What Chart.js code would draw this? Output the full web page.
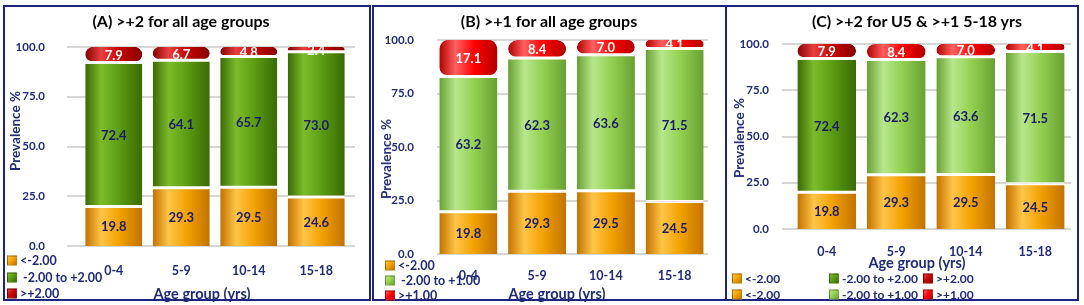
<!DOCTYPE html>
<html>
<head>
<meta charset="utf-8">
<script src="https://cdn.jsdelivr.net/npm/chart.js@4.4.1/dist/chart.umd.min.js"></script>
<style>
    body { margin: 0; background: #fff; width: 1084px; height: 305px; overflow: hidden; position: relative; font-family: Lato, 'Open Sans', sans-serif; }
    .panel { position: absolute; top: 5px; height: 292px; border: 2px solid #1c2380; }
    canvas { position: absolute; top: 0; }
    .txt { position: absolute; font-weight: bold; white-space: nowrap; color: #1f2a78; transform: translate(-50%, -50%); }
    .ttl { color: #000; font-size: 16px; }
    .axt { font-size: 14.5px; }
    .yt { font-size: 13.5px; transform: translate(-50%, -50%) rotate(-90deg); }
    .leg { position: absolute; font-weight: bold; font-size: 12.5px; color: #1f2a78; white-space: nowrap; transform: translateY(-50%); display: flex; align-items: center; }
    .leg.sm { font-size: 12px; }
    .leg i { display: inline-block; width: 8px; height: 8px; margin-right: 3px; border: 1px solid rgba(0,0,0,0.25); }
</style>
</head>
<body>
<div class="panel" style="left:3px;width:364px"></div>
<div class="panel" style="left:372px;width:351px"></div>
<div class="panel" style="left:725px;width:350px"></div>

<div style="position:absolute;left:0;top:0;width:370px;height:305px"><canvas id="cA"></canvas></div>
<div style="position:absolute;left:372px;top:0;width:355px;height:305px"><canvas id="cB"></canvas></div>
<div style="position:absolute;left:725px;top:0;width:354px;height:305px"><canvas id="cC"></canvas></div>

<div class="txt ttl" style="left:181px;top:20px">(A) &gt;+2 for all age groups</div>
<div class="txt ttl" style="left:549px;top:20px">(B) &gt;+1 for all age groups</div>
<div class="txt ttl" style="left:917px;top:20px">(C) &gt;+2 for U5 &amp; &gt;+1 5-18 yrs</div>

<div class="txt yt" style="left:15px;top:131px">Prevalence %</div>
<div class="txt yt" style="left:386px;top:159px">Prevalence %</div>
<div class="txt yt" style="left:739px;top:138px">Prevalence %</div>

<div class="txt axt" style="left:202px;top:293px">Age group (yrs)</div>
<div class="txt axt" style="left:557px;top:293px">Age group (yrs)</div>
<div class="txt axt" style="left:917px;top:262px">Age group (yrs)</div>

<div id="legends"></div>

<script>
// ===== data =====
const ageGroups = ['0-4', '5-9', '10-14', '15-18'];
const yTicks = [0, 25, 50, 75, 100];

// (A) >+2 for all age groups
const aLow = [19.8, 29.3, 29.5, 24.6];
const aMid = [72.4, 64.1, 65.7, 73.0];
const aHigh = [7.9, 6.7, 4.8, 2.4];

// (B) >+1 for all age groups
const bLow = [19.8, 29.3, 29.5, 24.5];
const bMid = [63.2, 62.3, 63.6, 71.5];
const bHigh = [17.1, 8.4, 7.0, 4.1];

// (C) >+2 for U5 & >+1 5-18 yrs
const cLow = [19.8, 29.3, 29.5, 24.5];
const cMid = [72.4, 62.3, 63.6, 71.5];
const cHigh = [7.9, 8.4, 7.0, 4.1];

const legendA = ['<-2.00', ' -2.00 to +2.00', '>+2.00'];
const legendB = ['<-2.00', ' -2.00 to +1.00', '>+1.00'];

// ===== styles =====
// [edge, mid, highlight]
const ORANGE = ['#c27200', '#f2a100', '#ffc548'];
const DKGREEN = ['#3a6a04', '#5b9c12', '#7cbc2c'];
const LTGREEN = ['#68a032', '#92d050', '#b8e78c'];
const DKRED = ['#860000', '#c80000', '#e84040'];
const RED = ['#b20000', '#ff0000', '#ff6060'];
const NAVY = '#1f2a78';
const BAR_PCT = 0.845;
const H = 305;

function cylinder(palettes) {
    return c => {
        const pal = palettes[c.dataIndex] || palettes[0];
        const xs = c.chart.scales.x;
        if (c.type !== 'data' || !xs || !xs.width) return pal[1];
        const cx = xs.getPixelForValue(c.dataIndex);
        const w = xs.width / ageGroups.length * BAR_PCT;
        const g = c.chart.ctx.createLinearGradient(cx - w / 2, 0, cx + w / 2, 0);
        g.addColorStop(0, pal[0]);
        g.addColorStop(0.28, pal[2]);
        g.addColorStop(0.6, pal[1]);
        g.addColorStop(1, pal[0]);
        return g;
    };
}

const gridLines = {
    id: 'gridLines',
    beforeDatasetsDraw(chart, args, opts) {
        const { ctx, scales: { y } } = chart;
        ctx.save();
        ctx.strokeStyle = '#d6d6d6';
        ctx.lineWidth = 2;
        y.ticks.forEach(t => {
            const py = Math.round(y.getPixelForValue(t.value));
            ctx.beginPath(); ctx.moveTo(opts.x0, py); ctx.lineTo(opts.x1, py); ctx.stroke();
        });
        ctx.restore();
    }
};

const segLabels = {
    id: 'segLabels',
    afterDatasetsDraw(chart) {
        const ctx = chart.ctx;
        ctx.save();
        ctx.font = 'bold 13px Lato';
        ctx.textAlign = 'center';
        ctx.textBaseline = 'middle';
        chart.data.datasets.forEach((ds, i) => {
            chart.getDatasetMeta(i).data.forEach((el, j) => {
                ctx.fillStyle = ds.labelColor;
                ctx.fillText(ds.data[j].toFixed(1), el.x, (el.y + el.base) / 2 + 1);
            });
        });
        ctx.restore();
    }
};

// area = plot box inside the canvas: left, right, top, bottom (px)
function renderPanel(id, low, mid, high, pals, geo) {
    const a = geo.area;
    const common = { borderColor: '#fff', borderSkipped: false, borderRadius: 9, barPercentage: BAR_PCT, categoryPercentage: 1 };
    new Chart(document.getElementById(id), {
        type: 'bar',
        data: { labels: ageGroups, datasets: [
            { ...common, label: 'low', data: low, backgroundColor: cylinder(pals.low), borderWidth: { top: 1.5, bottom: 0, left: 0, right: 0 }, labelColor: '#1b1b6b' },
            { ...common, label: 'mid', data: mid, backgroundColor: cylinder(pals.mid), borderWidth: { top: 1.5, bottom: 1.5, left: 0, right: 0 }, labelColor: '#1b1b6b' },
            { ...common, label: 'high', data: high, backgroundColor: cylinder(pals.high), borderWidth: { top: 0, bottom: 1.5, left: 0, right: 0 }, labelColor: '#fff' }
        ]},
        options: {
            responsive: true, maintainAspectRatio: false, animation: false, events: [],
            layout: { padding: { left: 0, bottom: 0, top: a.top, right: a.right } },
            scales: {
                x: { stacked: true, offset: true, grid: { display: false }, border: { display: false },
                     afterFit: s => { s.height = H - a.bottom; },
                     ticks: { padding: geo.xPad, color: NAVY, font: { family: 'Lato', weight: 'bold', size: 12.5 } } },
                y: { stacked: true, min: yTicks[0], max: yTicks[yTicks.length - 1], grid: { display: false }, border: { display: false },
                     afterFit: s => { s.width = a.left; },
                     afterBuildTicks: s => { s.ticks = yTicks.map(v => ({ value: v })); },
                     ticks: { padding: geo.yPad, color: NAVY, callback: v => v.toFixed(1), font: { family: 'Lato', weight: 'bold', size: 11.5 } } }
            },
            plugins: { legend: { display: false }, tooltip: { enabled: false }, gridLines: geo.grid }
        },
        plugins: [gridLines, segLabels]
    });
}

const rep = p => ageGroups.map(() => p);

renderPanel('cA', aLow, aMid, aHigh,
    { low: rep(ORANGE), mid: rep(DKGREEN), high: rep(DKRED) },
    { area: { left: 80, right: 20, top: 47, bottom: 246 }, yPad: 27, xPad: 9, grid: { x0: 67, x1: 355 } });

renderPanel('cB', bLow, bMid, bHigh,
    { low: rep(ORANGE), mid: rep(LTGREEN), high: rep(RED) },
    { area: { left: 62, right: 18, top: 40, bottom: 254 }, yPad: 12, xPad: 6, grid: { x0: 65, x1: 336 } });

renderPanel('cC', cLow, cMid, cHigh,
    { low: rep(ORANGE), mid: [DKGREEN, LTGREEN, LTGREEN, LTGREEN], high: [DKRED, RED, RED, RED] },
    { area: { left: 67, right: 9, top: 44, bottom: 229 }, yPad: 15, xPad: 7, grid: { x0: 57, x1: 346 } });

// ===== legends =====
const legBox = document.getElementById('legends');
function legItem(text, pal, x, y, cls) {
    const d = document.createElement('div');
    d.className = 'leg' + (cls ? ' ' + cls : '');
    d.style.left = x + 'px';
    d.style.top = y + 'px';
    const m = document.createElement('i');
    m.style.background = `linear-gradient(135deg, ${pal[2]}, ${pal[1]} 50%, ${pal[0]})`;
    d.appendChild(m);
    d.appendChild(document.createTextNode(text.replace(/^ /, '\u00a0')));
    legBox.appendChild(d);
}
[ORANGE, DKGREEN, DKRED].forEach((p, i) => legItem(legendA[i], p, 7, [260, 277, 293][i]));
[ORANGE, LTGREEN, RED].forEach((p, i) => legItem(legendB[i], p, 385, [265, 280, 295][i]));
const cCols = [732, 829, 923];
[ORANGE, DKGREEN, DKRED].forEach((p, i) => legItem(legendA[i].trim(), p, cCols[i], 278, 'sm'));
[ORANGE, LTGREEN, RED].forEach((p, i) => legItem(legendB[i].trim(), p, cCols[i], 294, 'sm'));
</script>
</body>
</html>
